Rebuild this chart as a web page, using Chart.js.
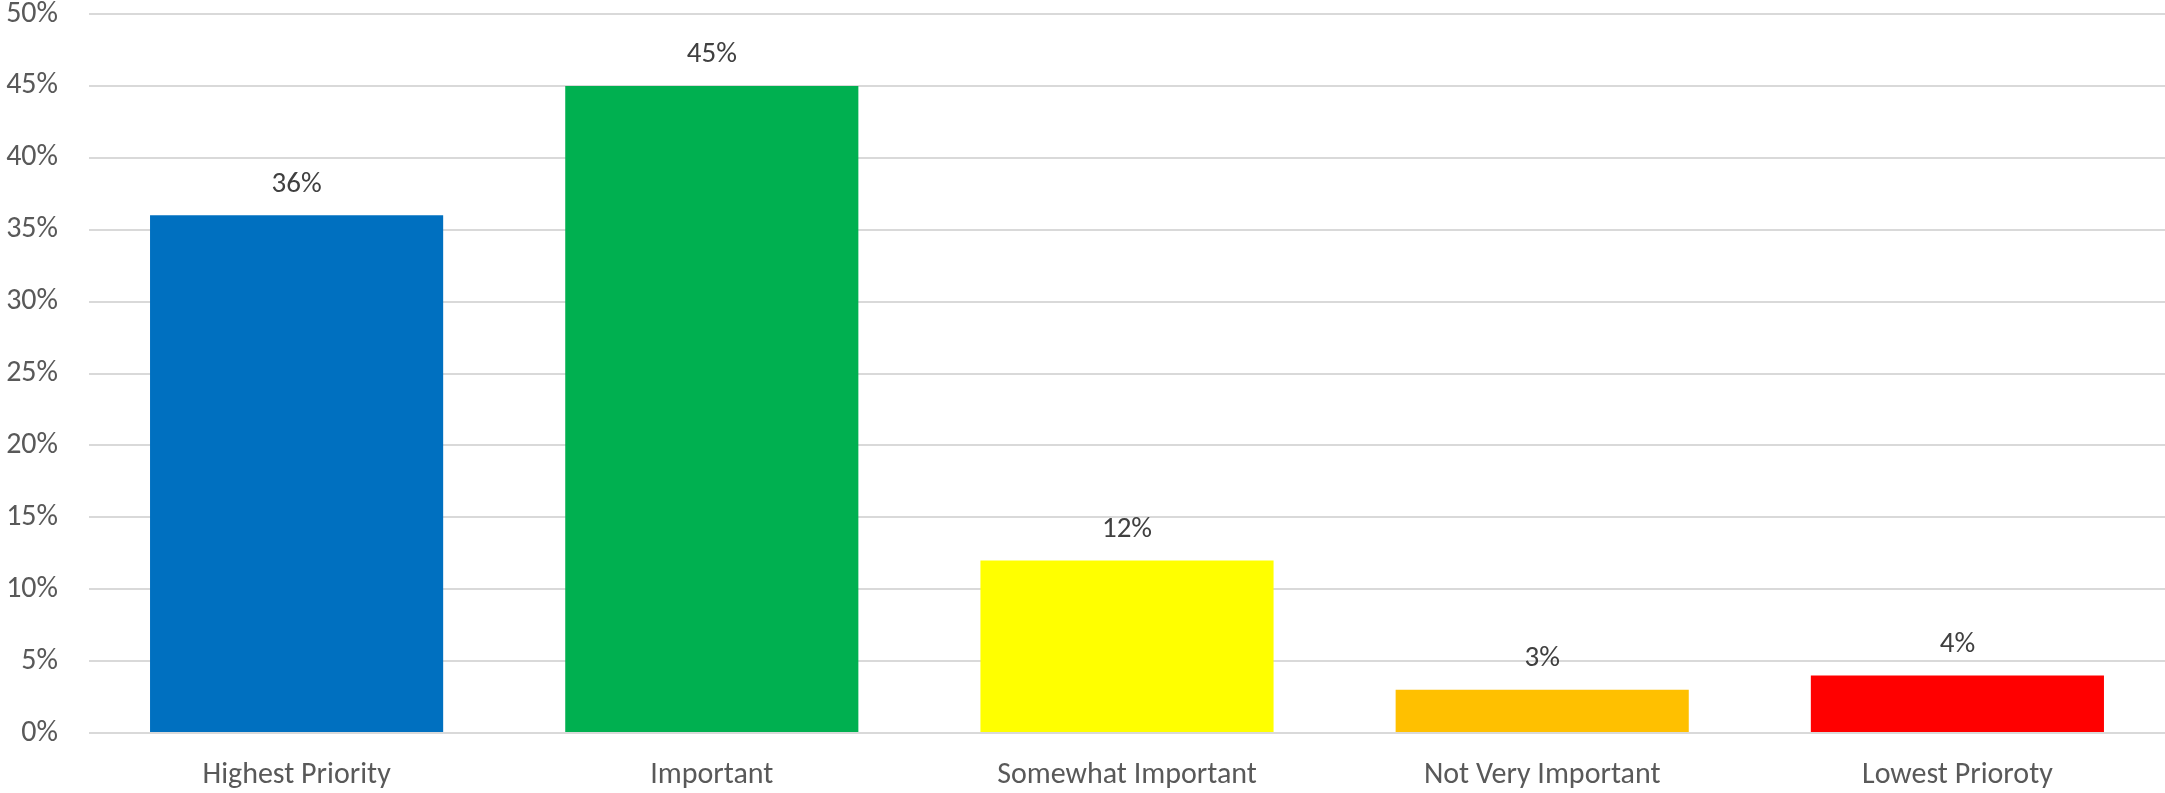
<!DOCTYPE html>
<html>
<head>
<meta charset="utf-8">
<script src="https://cdn.jsdelivr.net/npm/chart.js@4"></script>
<style>
  html, body { margin: 0; padding: 0; background: #fff; }
  #wrap { width: 2165px; height: 793px; }
</style>
</head>
<body>
<div id="wrap"><canvas id="barChart"></canvas></div>
<script>
var categories = ["Highest Priority", "Important", "Somewhat Important", "Not Very Important", "Lowest Prioroty"];
var shares = [36, 45, 12, 3, 4];
var barColors = ["#0070C0", "#00B050", "#FFFF00", "#FFC000", "#FF0000"];
var yTicks = [0, 5, 10, 15, 20, 25, 30, 35, 40, 45, 50];

var fontFamily = "Carlito, Lato, 'Open Sans', sans-serif";

// draw value labels above each bar
var valueLabels = {
  id: "valueLabels",
  afterDatasetsDraw: function(chart) {
    var ctx = chart.ctx;
    var meta = chart.getDatasetMeta(0);
    ctx.save();
    ctx.font = "29px " + fontFamily;
    ctx.fillStyle = "#404040";
    ctx.textAlign = "center";
    ctx.textBaseline = "middle";
    meta.data.forEach(function(bar, i) {
      ctx.fillText(shares[i] + "%", bar.x, bar.y - 31);
    });
    ctx.restore();
  }
};

var ctx = document.getElementById("barChart").getContext("2d");
new Chart(ctx, {
  type: "bar",
  data: {
    labels: categories,
    datasets: [{
      data: shares,
      backgroundColor: barColors,
      categoryPercentage: 0.706,
      barPercentage: 1
    }]
  },
  options: {
    responsive: true,
    maintainAspectRatio: false,
    animation: false,
    layout: { padding: { top: 14, right: 0, left: 0, bottom: 0 } },
    plugins: { legend: { display: false }, tooltip: { enabled: false } },
    scales: {
      x: {
        grid: { display: false, drawTicks: false },
        border: { display: false },
        ticks: {
          color: "#595959",
          font: { family: fontFamily, size: 30 },
          padding: 24,
          maxRotation: 0
        },
        afterFit: function(scale) {
          scale.height = 60;
          scale.paddingLeft = 0;
          scale.paddingRight = 0;
        }
      },
      y: {
        min: 0,
        max: 50,
        afterBuildTicks: function(scale) {
          scale.ticks = yTicks.map(function(v) { return { value: v }; });
        },
        grid: { color: "#D9D9D9", lineWidth: 2, drawTicks: false },
        border: { display: false },
        ticks: {
          color: "#595959",
          font: { family: fontFamily, size: 30 },
          padding: 31,
          callback: function(v) { return v + "%"; }
        },
        afterFit: function(scale) {
          scale.width = 89;
          scale.paddingTop = 0;
          scale.paddingBottom = 0;
        }
      }
    }
  },
  plugins: [valueLabels]
});
</script>
</body>
</html>
